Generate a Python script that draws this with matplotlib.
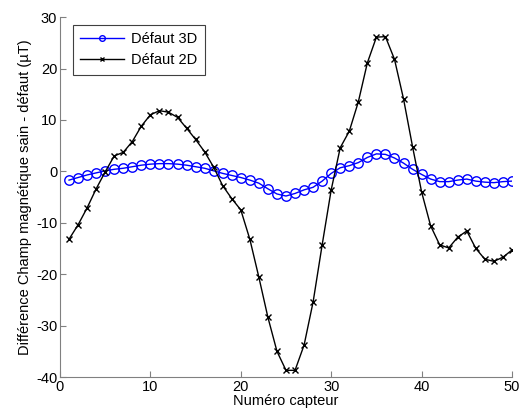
import numpy as np
import matplotlib
matplotlib.use("Agg")
import matplotlib.pyplot as plt

plt.rcParams["font.family"] = ["Liberation Sans", "DejaVu Sans"]
plt.rcParams["axes.unicode_minus"] = False

# ── données ──────────────────────────────────────────────────────────────────
capteurs = np.arange(1, 51)

defaut_3d = [
    -1.7, -1.2, -0.7, -0.3, 0.1, 0.4, 0.6, 0.9, 1.2, 1.4,
    1.5, 1.5, 1.4, 1.2, 0.9, 0.6, 0.1, -0.4, -0.8, -1.2,
    -1.7, -2.3, -3.4, -4.4, -4.8, -4.3, -3.6, -3.1, -1.9, -0.4,
    0.7, 1.1, 1.7, 2.7, 3.4, 3.3, 2.6, 1.6, 0.4, -0.6,
    -1.5, -2.0, -2.0, -1.7, -1.5, -1.9, -2.1, -2.2, -2.0, -1.9,
]

defaut_2d = [
    -13.2, -10.4, -7.1, -3.4, -0.1, 3.0, 3.7, 5.8, 8.8, 11.0,
    11.8, 11.5, 10.5, 8.4, 6.2, 3.8, 0.8, -2.8, -5.3, -7.5,
    -13.2, -20.6, -28.4, -35.0, -38.7, -38.7, -33.8, -25.4, -14.3, -3.6,
    4.6, 7.8, 13.5, 21.1, 26.1, 26.2, 21.8, 14.1, 4.8, -4.0,
    -10.6, -14.3, -14.9, -12.8, -11.6, -15.0, -17.1, -17.5, -16.7, -15.3,
]

fig = plt.figure(figsize=(5.19, 4.17), dpi=100)
ax = fig.add_axes([0.1156, 0.0959, 0.8709, 0.8631])

ax.plot(capteurs, defaut_3d, color="#0000ff", lw=1.0, marker="o",
        ms=6.8, mfc="none", mew=1.0, label="Défaut 3D")
ax.plot(capteurs, defaut_2d, color="k", lw=1.0, marker="x",
        ms=4.5, mew=1.0, label="Défaut 2D")

ax.set_xlim(0, 50)
ax.set_ylim(-40, 30)
ax.set_xticks(np.arange(0, 51, 10))
ax.set_yticks(np.arange(-40, 31, 10))
ax.tick_params(direction="in", length=4, labelsize=10.5, color="#808080",
               pad=2)
for s in ("top", "right"):
    ax.spines[s].set_visible(False)
for s in ("left", "bottom"):
    ax.spines[s].set_color("#808080")

ax.set_xlabel("Numéro capteur", fontsize=10.5, labelpad=0)
ax.set_ylabel("Différence Champ magnétique sain - défaut (µT)", fontsize=10.5,
              labelpad=3)

leg = ax.legend(loc="upper left", bbox_to_anchor=(0.029, 0.979), fontsize=10.5,
                fancybox=False, framealpha=1, edgecolor="#404040",
                borderpad=0.5, handlelength=3.0, handletextpad=0.5,
                labelspacing=0.5, markerscale=0.6, borderaxespad=0)
leg.get_frame().set_linewidth(0.8)

fig.savefig("out.png", dpi=100)
